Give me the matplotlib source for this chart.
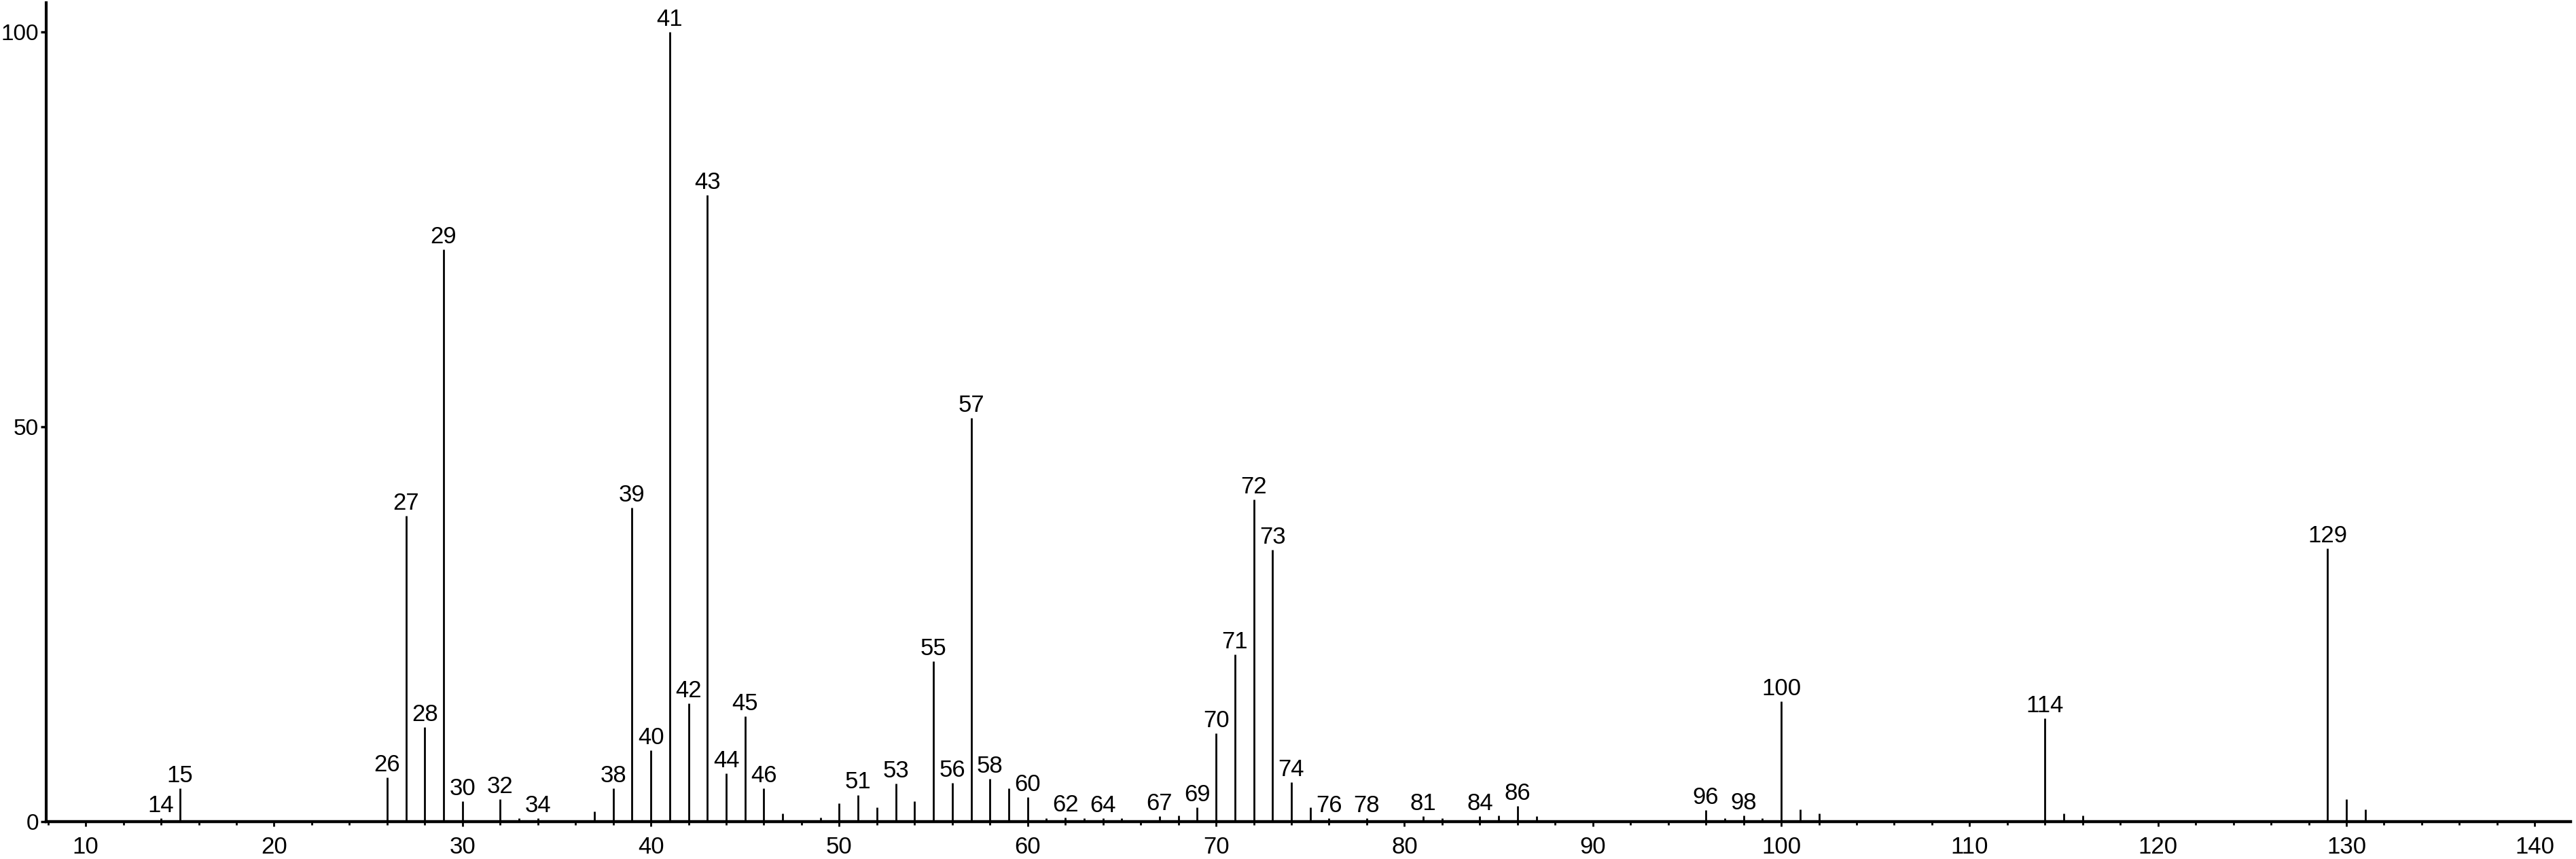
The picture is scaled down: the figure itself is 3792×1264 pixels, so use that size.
import matplotlib
matplotlib.use("Agg")
import matplotlib.pyplot as plt
from matplotlib.ticker import MultipleLocator

matplotlib.rcParams['font.family'] = ['Liberation Sans', 'DejaVu Sans']
matplotlib.rcParams['font.size'] = 24

# m/z and relative intensity (%)
mz = [14, 15, 26, 27, 28, 29, 30, 32, 33, 34, 37, 38, 39, 40, 41, 42, 43, 44, 45, 46,
      47, 49, 50, 51, 52, 53, 54, 55, 56, 57, 58, 59, 60, 61, 62, 63, 64, 65, 67, 68,
      69, 70, 71, 72, 73, 74, 75, 76, 78, 81, 82, 84, 85, 86, 87, 96, 97, 98, 99, 100,
      101, 102, 114, 115, 116, 129, 130, 131]
intensity = [0.45, 4.2, 5.6, 38.7, 12.0, 72.5, 2.6, 2.8, 0.45, 0.45, 1.25, 4.2, 39.8, 9.0, 100.0, 15.0, 79.4, 6.1, 13.35, 4.2,
             1.0, 0.5, 2.3, 3.4, 1.8, 4.8, 2.6, 20.3, 4.9, 51.1, 5.4, 4.2, 3.1, 0.45, 0.5, 0.45, 0.45, 0.45, 0.72, 0.78,
             1.8, 11.2, 21.2, 40.8, 34.4, 5.0, 1.8, 0.45, 0.45, 0.72, 0.45, 0.72, 0.78, 2.0, 0.72, 1.5, 0.45, 0.78, 0.45, 15.2,
             1.55, 1.0, 13.1, 1.0, 0.78, 34.6, 2.8, 1.55]

# peaks that carry a m/z label
labelled = [14, 15, 26, 27, 28, 29, 30, 32, 34, 38, 39, 40, 41, 42, 43, 44, 45, 46, 51, 53,
            55, 56, 57, 58, 60, 62, 64, 67, 69, 70, 71, 72, 73, 74, 76, 78, 81, 84, 86, 96,
            98, 100, 114, 129]

fig = plt.figure(figsize=(37.92, 12.64), dpi=100)
ax = fig.add_axes([0.0179, 0.0435, 0.980, 0.953])

ax.vlines(mz, 0, intensity, color="k", linewidth=2.0)
for m, h in zip(mz, intensity):
    if m in labelled:
        ax.annotate(str(m), (m, h), xytext=(0, 1.5), textcoords="offset points",
                    ha="center", va="bottom", fontsize=25)

ax.set_xlim(7.9, 141.9)
ax.set_ylim(0, 103.7)
ax.xaxis.set_major_locator(MultipleLocator(10))
ax.xaxis.set_minor_locator(MultipleLocator(2))
ax.set_yticks([0, 50, 100])

for s in ["top", "right"]:
    ax.spines[s].set_visible(False)
ax.spines["left"].set_linewidth(3)
ax.spines["bottom"].set_linewidth(3.2)

ax.tick_params(axis="x", which="major", length=5, width=2, pad=10, labelsize=25)
ax.tick_params(axis="x", which="minor", length=3.5, width=2)
ax.tick_params(axis="y", which="major", length=6, width=2.5, pad=2, labelsize=24)

plt.savefig("out.png", dpi=100, facecolor="white")
